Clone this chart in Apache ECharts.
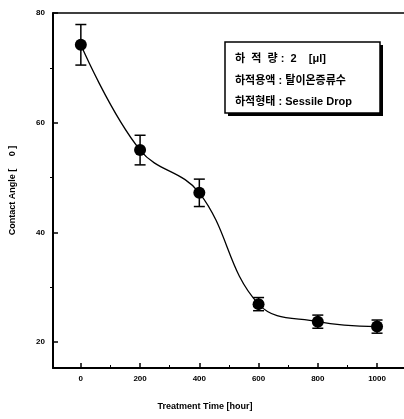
<!DOCTYPE html>
<html><head><meta charset="utf-8">
<script src="https://cdn.jsdelivr.net/npm/echarts@6/dist/echarts.min.js"></script>
<style>html,body{margin:0;padding:0;background:#fff}#c{width:404px;height:419px}</style>
</head><body><div id="c"></div>
<script>
const xValues = [0, 200, 400, 600, 800, 1000];
const yValues = [74.2, 55, 47.2, 26.9, 23.7, 22.8];
const yErrors = [3.7, 2.7, 2.5, 1.2, 1.2, 1.2];
const xTicks = [0, 200, 400, 600, 800, 1000];
const xMinorTicks = [100, 300, 500, 700, 900];
const yTicks = [20, 40, 60, 80];
const yMinorTicks = [30, 50, 70];
const yTitle = 'Contact Angle [     0 ]';
const xTitle = 'Treatment Time [hour]';
const boxLines = ['하  적  량 :  2    [μl]', '하적용액 : 탈이온증류수', '하적형태 : Sessile Drop'];

const FONT = 'Liberation Sans, Arial, sans-serif';
const chart = echarts.init(document.getElementById('c'), null, {renderer: 'canvas'});
const X_MIN = -94, X_MAX = 1091, Y_MIN = 15.25, Y_MAX = 80;
const lineData = xValues.map((x, i) => [x, yValues[i]]);
const errData = xValues.map((x, i) => [x, yValues[i] - yErrors[i], yValues[i] + yErrors[i]]);

const baseX = {type: 'value', min: X_MIN, max: X_MAX, splitLine: {show: false}};
const baseY = {type: 'value', min: Y_MIN, max: Y_MAX, splitLine: {show: false}};
const plain = v => String(v);

chart.setOption({
  animation: false,
  grid: {left: 51, top: 13, right: -2, bottom: 51},
  xAxis: [
    Object.assign({}, baseX, {
      position: 'bottom',
      axisLine: {show: true, onZero: false, lineStyle: {color: '#000', width: 2}},
      axisTick: {show: true, inside: true, length: 5, customValues: xTicks, lineStyle: {color: '#000', width: 1.5}},
      axisLabel: {show: true, customValues: xTicks, formatter: plain, margin: 7, color: '#000', fontFamily: FONT, fontWeight: 'bold', fontSize: 8}
    }),
    Object.assign({}, baseX, {
      position: 'bottom',
      axisLine: {show: false, onZero: false},
      axisTick: {show: true, inside: true, length: 3, customValues: xMinorTicks, lineStyle: {color: '#000', width: 1}},
      axisLabel: {show: false}
    }),
    Object.assign({}, baseX, {
      position: 'top',
      axisLine: {show: true, onZero: false, lineStyle: {color: '#000', width: 1.5}},
      axisTick: {show: false},
      axisLabel: {show: false}
    })
  ],
  yAxis: [
    Object.assign({}, baseY, {
      position: 'left',
      name: yTitle, nameLocation: 'middle', nameRotate: 90, nameGap: 36,
      nameTextStyle: {color: '#000', fontFamily: FONT, fontWeight: 'bold', fontSize: 9},
      axisLine: {show: true, onZero: false, lineStyle: {color: '#000', width: 2}},
      axisTick: {show: true, inside: true, length: 5, customValues: yTicks, lineStyle: {color: '#000', width: 1.5}},
      axisLabel: {show: true, customValues: yTicks, formatter: plain, margin: 8, color: '#000', fontFamily: FONT, fontWeight: 'bold', fontSize: 8}
    }),
    Object.assign({}, baseY, {
      position: 'left',
      axisLine: {show: false, onZero: false},
      axisTick: {show: true, inside: false, length: 3, customValues: yMinorTicks, lineStyle: {color: '#000', width: 1}},
      axisLabel: {show: false}
    })
  ],
  series: [
    {
      type: 'line', xAxisIndex: 0, yAxisIndex: 0, data: lineData,
      smooth: 0.4, symbol: 'circle', symbolSize: 12,
      lineStyle: {color: '#000', width: 1.3},
      itemStyle: {color: '#000'}, z: 3
    },
    {
      type: 'custom', xAxisIndex: 0, yAxisIndex: 0, data: errData, z: 4,
      renderItem: function (params, api) {
        const x = api.value(0);
        const lo = api.coord([x, api.value(1)]);
        const hi = api.coord([x, api.value(2)]);
        const hw = 5.5;
        const st = {stroke: '#000', lineWidth: 1.5};
        return {type: 'group', children: [
          {type: 'line', shape: {x1: lo[0], y1: lo[1], x2: hi[0], y2: hi[1]}, style: st},
          {type: 'line', shape: {x1: lo[0] - hw, y1: lo[1], x2: lo[0] + hw, y2: lo[1]}, style: st},
          {type: 'line', shape: {x1: hi[0] - hw, y1: hi[1], x2: hi[0] + hw, y2: hi[1]}, style: st}
        ]};
      }
    }
  ],
  graphic: [
    {type: 'rect', shape: {x: 228, y: 45, width: 155, height: 71}, style: {fill: '#000'}, z: 10},
    {type: 'rect', shape: {x: 225, y: 42, width: 155, height: 71}, style: {fill: '#fff', stroke: '#000', lineWidth: 1.5}, z: 11},
    {type: 'text', x: 235, y: 59, style: {text: boxLines[0], font: 'bold 11px "Liberation Sans", "Noto Sans CJK KR", sans-serif', fill: '#000', textVerticalAlign: 'middle'}, z: 12},
    {type: 'text', x: 235, y: 81, style: {text: boxLines[1], font: 'bold 11px "Liberation Sans", "Noto Sans CJK KR", sans-serif', fill: '#000', textVerticalAlign: 'middle'}, z: 12},
    {type: 'text', x: 235, y: 102, style: {text: boxLines[2], font: 'bold 11px "Liberation Sans", "Noto Sans CJK KR", sans-serif', fill: '#000', textVerticalAlign: 'middle'}, z: 12},
    {type: 'text', x: 205, y: 407, style: {text: xTitle, font: 'bold 9px Liberation Sans, Arial, sans-serif', fill: '#000', textAlign: 'center', textVerticalAlign: 'middle'}, z: 12}
  ]
});
</script></body></html>
